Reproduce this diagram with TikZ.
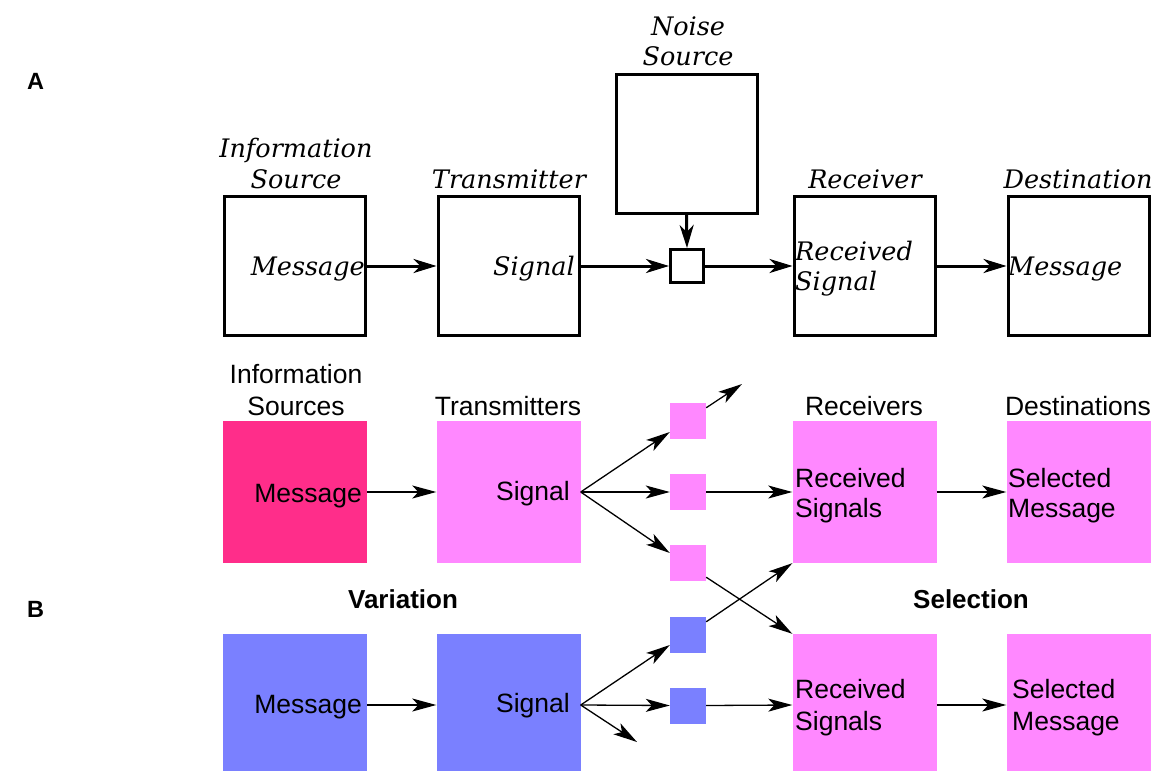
\documentclass[tikz,border=0pt]{standalone}
\usepackage{fontspec}
\setmainfont{Liberation Sans}
\newfontfamily\twfont{DejaVu Serif}
\usetikzlibrary{arrows.meta,calc}
\definecolor{deeppk}{RGB}{255,45,138}
\definecolor{lightpk}{RGB}{255,136,255}
\definecolor{bluish}{RGB}{122,128,255}
\newcommand\ftA{\fontsize{25.5pt}{30pt}\selectfont\twfont\itshape}
\newcommand\sfB{\fontsize{26.5pt}{32pt}\selectfont}
\newcommand\sfBold{\fontsize{26pt}{32pt}\selectfont\bfseries}
\newcommand\sfLab{\fontsize{23.5pt}{28pt}\selectfont\bfseries}
\begin{document}
\begin{tikzpicture}[x=1pt,y=-1pt,
  boxA/.style={draw,line width=3pt,minimum width=141pt,minimum height=139pt,inner sep=0pt},
  smallA/.style={draw,line width=3pt,minimum width=33pt,minimum height=33pt,inner sep=0pt},
  boxB/.style={draw=none,minimum width=144pt,minimum height=142pt,inner sep=0pt},
  smallB/.style={draw=none,minimum width=36pt,minimum height=36pt,inner sep=0pt},
  tA/.style={font=\ftA,inner sep=0pt},
  tB/.style={font=\sfB,inner sep=0pt},
  arA/.style={line width=3pt,-{Stealth[length=23pt,width=14pt,inset=7pt]}},
  arB/.style={line width=1.3pt,-{Stealth[length=24pt,width=13pt,inset=6pt]}}]
\useasboundingbox (0,0) rectangle (1157,771);
% ---------------- Part A ----------------
\node[font=\sfLab,anchor=base,inner sep=0pt] (labA) at (35.5,89) {A};
\node[boxA] (IS) at (295,266) {};
\node[boxA] (TX) at (508.5,266) {};
\node[boxA] (NS) at (686.5,143.5) {};
\node[smallA] (SM) at (687,266) {};
\node[boxA] (RX) at (864.5,266) {};
\node[boxA] (DS) at (1078.5,266) {};
\node[tA,anchor=base] (lIS1) at (296,157) {Information};
\node[tA,anchor=base] (lIS2) at (296,188) {Source};
\node[tA,anchor=base] (lTX) at (509,188) {Transmitter};
\node[tA,anchor=base] (lNS1) at (688,35) {Noise};
\node[tA,anchor=base] (lNS2) at (688,65) {Source};
\node[tA,anchor=base] (lRX) at (865,188) {Receiver};
\node[tA,anchor=base] (lDS) at (1078,188) {Destination};
\node[tA,anchor=base east] (mIS) at (365,275) {Message};
\node[tA,anchor=base east] (mTX) at (575,275) {Signal};
\node[tA,anchor=base west] (mRX1) at (795,260) {Received};
\node[tA,anchor=base west] (mRX2) at (795,290) {Signal};
\node[tA,anchor=base west] (mDS) at (1008,275) {Message};
\draw[arA] (IS.east) -- (TX.west);
\draw[arA] (TX.east) -- (SM.west);
\draw[arA] (SM.east) -- (RX.west);
\draw[arA] (RX.east) -- (DS.west);
\draw[arA] (NS.south) -- (SM.north);
% ---------------- Part B ----------------
\node[font=\sfLab,anchor=base,inner sep=0pt] (labB) at (35.5,617) {B};
\node[boxB,fill=deeppk] (bIS) at (295,492) {};
\node[boxB,fill=lightpk] (bTX) at (508.5,492) {};
\node[smallB,fill=lightpk] (s1) at (688,421) {};
\node[smallB,fill=lightpk] (s2) at (688,492) {};
\node[smallB,fill=lightpk] (s3) at (688,563) {};
\node[smallB,fill=bluish] (s4) at (688,635) {};
\node[smallB,fill=bluish] (s5) at (688,705.5) {};
\node[boxB,fill=lightpk] (bRXu) at (864.5,492) {};
\node[boxB,fill=lightpk] (bDSu) at (1078.5,492) {};
\node[boxB,fill=bluish] (cIS) at (295,705) {};
\node[boxB,fill=bluish] (cTX) at (508.5,705) {};
\node[boxB,fill=lightpk] (bRXl) at (864.5,705) {};
\node[boxB,fill=lightpk] (bDSl) at (1078.5,705) {};
\coordinate (free1) at (742,384);
\coordinate (free2) at (637,742);
% labels
\node[tB,anchor=base] (hIS1) at (296,383) {Information};
\node[tB,anchor=base] (hIS2) at (296,415) {Sources};
\node[tB,anchor=base] (hTX) at (508,415) {Transmitters};
\node[tB,anchor=base] (hRX) at (864,415) {Receivers};
\node[tB,anchor=base] (hDS) at (1078,415) {Destinations};
\node[font=\sfBold,anchor=base,inner sep=0pt] (var) at (403,608) {Variation};
\node[font=\sfBold,anchor=base,inner sep=0pt] (sel) at (971,608) {Selection};
\node[tB,anchor=base east] (tIS) at (362,502) {Message};
\node[tB,anchor=base east] (tTX) at (570,500) {Signal};
\node[tB,anchor=base west] (tRX1) at (795,487) {Received};
\node[tB,anchor=base west] (tRX2) at (795,517) {Signals};
\node[tB,anchor=base west] (tDS1) at (1008,487) {Selected};
\node[tB,anchor=base west] (tDS2) at (1008,517) {Message};
\node[tB,anchor=base east] (uIS) at (362,713) {Message};
\node[tB,anchor=base east] (uTX) at (570,712) {Signal};
\node[tB,anchor=base west] (uRX1) at (795,698) {Received};
\node[tB,anchor=base west] (uRX2) at (795,730) {Signals};
\node[tB,anchor=base west] (uDS1) at (1012,698) {Selected};
\node[tB,anchor=base west] (uDS2) at (1012,730) {Message};
% arrows
\draw[arB] (bIS.east) -- (bTX.west);
\draw[arB] (bTX.east) -- ($(s1.west)+(0,11)$);
\draw[arB] (bTX.east) -- (s2.west);
\draw[arB] (bTX.east) -- ($(s3.west)+(0,-10)$);
\draw[arB] ($(s1.north east)+(0,5)$) -- (free1);
\draw[arB] (s2.east) -- (bRXu.west);
\draw[arB] ($(s3.south east)+(0,-4)$) -- (bRXl.north west);
\draw[arB] ($(s4.north east)+(0,5)$) -- (bRXu.south west);
\draw[arB] (bRXu.east) -- (bDSu.west);
\draw[arB] (cIS.east) -- (cTX.west);
\draw[arB] (cTX.east) -- ($(s4.west)+(0,10)$);
\draw[arB] (cTX.east) -- (s5.west);
\draw[arB] (cTX.east) -- (free2);
\draw[arB] (s5.east) -- (bRXl.west);
\draw[arB] (bRXl.east) -- (bDSl.west);
\end{tikzpicture}
\end{document}
